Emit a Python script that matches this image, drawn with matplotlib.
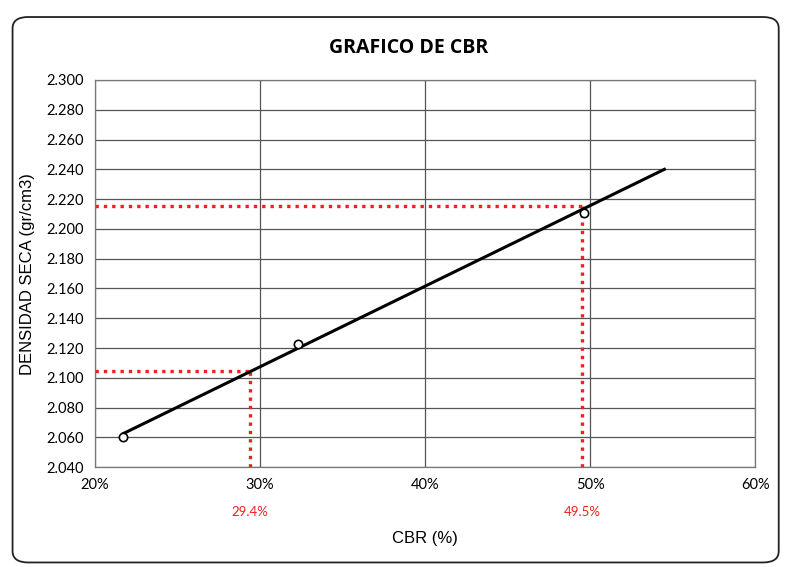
import numpy as np
import matplotlib.pyplot as plt
from matplotlib.patches import FancyBboxPatch

# CBR test points
cbr = [21.7, 32.3, 49.6]
densidad = [2.060, 2.123, 2.211]

# fitted line end points
trend_cbr = [21.7, 54.5]
trend_dens = [2.0625, 2.240]

# reading lines
lect_cbr = [29.4, 49.5]
lect_dens = [2.1045, 2.2155]
lect_labels = ["29.4%", "49.5%"]

yticks = np.arange(2.040, 2.3001, 0.020)
xticks = [20, 30, 40, 50, 60]

fig = plt.figure(figsize=(7.85, 5.67), dpi=100)
border = FancyBboxPatch((0.016, 0.008), 0.976, 0.962, boxstyle="round,pad=0,rounding_size=0.02",
                        transform=fig.transFigure, fill=False, edgecolor="#222222", linewidth=1.3)
fig.patches.append(border)

ax = fig.add_axes([0.121, 0.176, 0.841, 0.683])
ax.set_xlim(20, 60)
ax.set_ylim(2.040, 2.300)
ax.set_yticks(yticks)
ax.set_yticklabels(["{:.3f}".format(v) for v in yticks], family="Lato", fontsize=10.5)
ax.set_xticks(xticks)
ax.set_xticklabels(["{}%".format(v) for v in xticks], family="Lato", fontsize=10.5)
ax.tick_params(length=0, pad=8)
ax.grid(True, color="#555555", linewidth=0.9)
for s in ax.spines.values():
    s.set_color("#777777")
    s.set_linewidth(0.9)

ax.plot(trend_cbr, trend_dens, color="black", linewidth=2.2, zorder=3)
ax.plot(cbr, densidad, "o", markerfacecolor="white", markeredgecolor="black",
        markersize=6, markeredgewidth=1.2, zorder=4)

for xc, yd, lab in zip(lect_cbr, lect_dens, lect_labels):
    ax.plot([20, xc], [yd, yd], color="#ee2020", linestyle=(0, (1, 1.5)), linewidth=2.4, zorder=2)
    ax.plot([xc, xc], [2.040, yd], color="#ee2020", linestyle=(0, (1, 1.5)), linewidth=2.4, zorder=2)
    ax.text(xc, -0.115, lab, transform=ax.get_xaxis_transform(), color="#ee2020",
            fontsize=9.5, ha="center", va="center", family="Lato")

ax.set_xlabel("CBR (%)", fontsize=12, labelpad=28, family="Liberation Sans")
ax.set_ylabel("DENSIDAD SECA (gr/cm3)", fontsize=12, labelpad=8, family="Liberation Sans")
fig.text(0.52, 0.915, "GRAFICO DE CBR", ha="center", va="center", fontsize=14,
         fontweight="bold", family="Open Sans")

fig.savefig("out.png", dpi=100)
